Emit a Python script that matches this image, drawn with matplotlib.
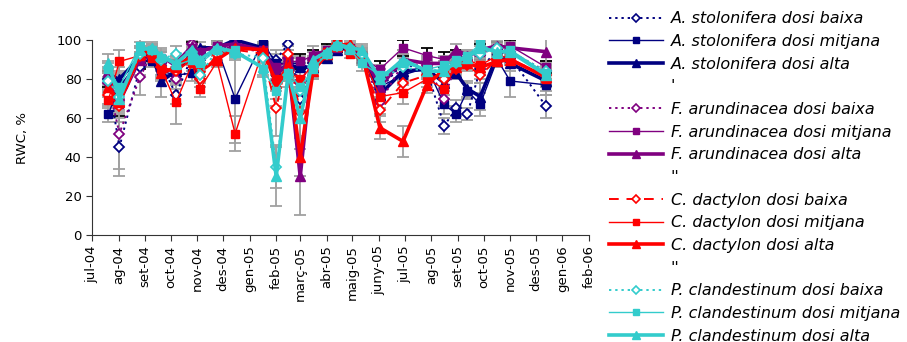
import numpy as np
import pandas as pd
import matplotlib
matplotlib.use("Agg")
import matplotlib.pyplot as plt
import matplotlib.dates as mdates
from matplotlib.lines import Line2D

# Sampling dates
dates = pd.to_datetime([
    "2004-07-20", "2004-08-02", "2004-08-26", "2004-09-09", "2004-09-20",
    "2004-10-07", "2004-10-26", "2004-11-04", "2004-11-24", "2004-12-15",
    "2005-01-16", "2005-02-01", "2005-02-15", "2005-03-01", "2005-03-16",
    "2005-04-01", "2005-04-13", "2005-04-28", "2005-05-12", "2005-06-02",
    "2005-06-29", "2005-07-27", "2005-08-16", "2005-08-30", "2005-09-12",
    "2005-09-27", "2005-10-17", "2005-11-01", "2005-12-13",
])

# RWC (%) per species and dose
a_baixa = [80, 45, 86, 92, 88, 72, 92, 90, 95, 97, 95, 90, 98, 70, 88, 92, 96, 96, 93, 75, 88, 84, 56, 65, 62, 85, 95, 91, 66]
a_mitjana = [62, 76, 90, 89, 84, 82, 83, 94, 96, 70, 99, 88, 88, 88, 85, 92, 96, 95, 90, 76, 82, 86, 67, 62, 74, 67, 90, 79, 77]
a_alta = [82, 80, 91, 92, 79, 84, 93, 96, 96, 100, 96, 84, 87, 86, 86, 91, 95, 96, 93, 72, 84, 85, 78, 83, 75, 71, 92, 88, 79]
f_baixa = [78, 52, 81, 93, 90, 80, 98, 92, 96, 96, 94, 85, 91, 78, 90, 94, 97, 96, 92, 68, 88, 87, 70, 88, 90, 93, 96, 94, 84]
f_mitjana = [80, 67, 89, 92, 91, 86, 96, 94, 97, 96, 95, 86, 89, 89, 92, 95, 96, 96, 91, 85, 96, 92, 90, 92, 91, 94, 96, 97, 86]
f_alta = [84, 72, 92, 94, 91, 88, 97, 94, 97, 98, 95, 82, 88, 30, 93, 94, 97, 97, 94, 76, 90, 88, 88, 95, 92, 95, 97, 96, 94]
c_baixa = [72, 66, 92, 94, 86, 84, 90, 80, 93, 95, 93, 65, 93, 63, 84, 93, 98, 95, 91, 64, 78, 82, 80, 85, 87, 82, 90, 90, 82]
c_mitjana = [69, 89, 92, 91, 85, 68, 88, 75, 89, 52, 94, 80, 84, 80, 87, 94, 100, 93, 92, 71, 73, 80, 75, 87, 90, 87, 92, 91, 80]
c_alta = [76, 68, 93, 95, 83, 86, 92, 84, 90, 96, 95, 78, 86, 40, 84, 93, 97, 98, 93, 55, 48, 77, 85, 86, 88, 86, 89, 90, 81]
p_baixa = [79, 71, 93, 95, 90, 93, 94, 82, 95, 93, 91, 35, 82, 74, 86, 93, 97, 96, 93, 80, 86, 84, 85, 88, 91, 93, 96, 94, 84]
p_mitjana = [85, 76, 97, 95, 91, 87, 90, 88, 95, 95, 85, 74, 83, 76, 85, 93, 97, 95, 88, 82, 88, 85, 87, 90, 92, 98, 93, 95, 83]
p_alta = [88, 70, 95, 96, 92, 88, 95, 90, 96, 94, 86, 30, 83, 60, 90, 94, 98, 96, 95, 80, 90, 84, 84, 89, 91, 96, 94, 94, 82]

# Standard errors
a_baixa_err = [5, 15, 4, 3, 4, 5, 3, 4, 3, 3, 3, 5, 3, 6, 4, 3, 2, 2, 3, 6, 5, 4, 4, 4, 3, 5, 3, 3, 6]
a_mitjana_err = [4, 8, 4, 3, 4, 4, 4, 3, 3, 23, 3, 5, 4, 4, 4, 3, 2, 2, 3, 5, 5, 4, 5, 4, 4, 6, 3, 8, 5]
a_alta_err = [4, 6, 3, 3, 8, 4, 3, 3, 2, 2, 3, 5, 4, 5, 4, 3, 2, 2, 3, 5, 4, 4, 4, 3, 4, 7, 3, 4, 5]
f_baixa_err = [5, 18, 9, 3, 4, 5, 3, 4, 3, 3, 3, 5, 4, 6, 4, 3, 2, 2, 3, 6, 5, 4, 4, 4, 3, 4, 3, 3, 5]
f_mitjana_err = [4, 6, 4, 3, 3, 4, 3, 3, 3, 3, 3, 4, 4, 4, 3, 3, 2, 2, 3, 4, 4, 4, 4, 3, 3, 4, 3, 3, 3]
f_alta_err = [4, 6, 4, 3, 3, 4, 3, 3, 3, 2, 3, 6, 4, 20, 4, 3, 2, 2, 3, 6, 5, 4, 4, 3, 3, 4, 3, 3, 7]
c_baixa_err = [5, 8, 4, 3, 4, 5, 3, 4, 3, 3, 3, 14, 4, 12, 4, 3, 2, 2, 3, 6, 5, 4, 4, 4, 3, 4, 3, 3, 5]
c_mitjana_err = [4, 6, 4, 3, 4, 11, 4, 4, 3, 9, 3, 6, 4, 8, 4, 3, 2, 2, 3, 6, 6, 4, 5, 4, 3, 4, 3, 3, 4]
c_alta_err = [5, 6, 4, 3, 4, 4, 3, 4, 3, 3, 3, 8, 4, 10, 4, 3, 2, 2, 3, 6, 8, 4, 4, 4, 3, 4, 3, 3, 4]
p_baixa_err = [5, 8, 4, 3, 4, 4, 3, 4, 3, 3, 3, 11, 6, 10, 4, 3, 2, 2, 3, 5, 5, 4, 4, 4, 3, 4, 3, 3, 4]
p_mitjana_err = [4, 6, 4, 3, 4, 4, 3, 4, 3, 3, 4, 8, 4, 8, 5, 3, 2, 2, 4, 5, 5, 4, 4, 4, 3, 4, 3, 3, 4]
p_alta_err = [5, 6, 4, 3, 4, 4, 3, 4, 3, 3, 4, 15, 4, 16, 4, 3, 2, 2, 3, 5, 5, 4, 4, 4, 3, 4, 3, 3, 4]

species = ["A. stolonifera", "F. arundinacea", "C. dactylon", "P. clandestinum"]
species_colors = ["#000080", "#800080", "#ff0000", "#33cccc"]
species_data = [
    (a_baixa, a_mitjana, a_alta),
    (f_baixa, f_mitjana, f_alta),
    (c_baixa, c_mitjana, c_alta),
    (p_baixa, p_mitjana, p_alta),
]
species_err = [
    (a_baixa_err, a_mitjana_err, a_alta_err),
    (f_baixa_err, f_mitjana_err, f_alta_err),
    (c_baixa_err, c_mitjana_err, c_alta_err),
    (p_baixa_err, p_mitjana_err, p_alta_err),
]
doses = ["dosi baixa", "dosi mitjana", "dosi alta"]
gap_labels = ["'", "''", "''"]

months_ca = ["gen", "feb", "març", "abr", "maig", "juny",
             "jul", "ag", "set", "oct", "nov", "des"]

fig = plt.figure(figsize=(9.07, 3.42), dpi=100)
ax = fig.add_axes([0.1014, 0.3129, 0.548, 0.5701])

handles = []
labels = []
for i, (name, color) in enumerate(zip(species, species_colors)):
    baixa, mitjana, alta = species_data[i]
    e_b, e_m, e_a = species_err[i]
    ecol_m = "black" if i == 1 else "#a0a0a0"
    for vals, err, ec in [(baixa, e_b, "#a0a0a0"), (mitjana, e_m, ecol_m), (alta, e_a, "#a0a0a0")]:
        ax.errorbar(dates, vals, yerr=err, fmt="none", ecolor=ec,
                    elinewidth=1.3, capsize=4, capthick=1.3, zorder=1)

    ls_baixa = (0, (5, 4)) if i == 2 else (0, (1.2, 2))
    ax.plot(dates, baixa, color=color, lw=1.4, linestyle=ls_baixa,
            marker="D", ms=4.8, mfc="white", mec=color, mew=1.3, zorder=3)
    ax.plot(dates, mitjana, color=color, lw=1.0, linestyle="-",
            marker="s", ms=5.8, mfc=color, mec=color, zorder=3)
    ax.plot(dates, alta, color=color, lw=2.6, linestyle="-",
            marker="^", ms=6.8, mfc=color, mec=color, zorder=3)

    # legend proxies with smaller markers
    handles += [
        Line2D([], [], color=color, lw=1.4, linestyle=ls_baixa, marker="D",
               ms=4, mfc="white", mec=color, mew=1.2),
        Line2D([], [], color=color, lw=1.0, marker="s", ms=5, mfc=color, mec=color),
        Line2D([], [], color=color, lw=2.6, marker="^", ms=6, mfc=color, mec=color),
    ]
    labels += [f"{name} {d}" for d in doses]
    if i < 3:
        handles.append(Line2D([], [], linestyle="none"))
        labels.append(gap_labels[i])

ax.set_ylim(0, 100)
ax.set_yticks(np.arange(0, 101, 20))
ax.set_xlim(pd.Timestamp("2004-07-01"), pd.Timestamp("2006-02-01"))
ax.xaxis.set_major_locator(mdates.MonthLocator())
ax.xaxis.set_major_formatter(
    plt.FuncFormatter(lambda x, pos: "%s-%s" % (
        months_ca[mdates.num2date(x).month - 1], mdates.num2date(x).strftime("%y"))))
ax.tick_params(axis="x", labelrotation=90, labelsize=9.5, direction="out", length=4, color="#333333")
ax.tick_params(axis="y", labelsize=9.5, direction="out", length=4, color="#333333")
ax.spines["top"].set_visible(False)
ax.spines["right"].set_visible(False)
for s in ["left", "bottom"]:
    ax.spines[s].set_color("#333333")
ax.set_ylabel("RWC, %", fontsize=9.5, labelpad=20)

leg = fig.legend(handles, labels, loc="upper left", bbox_to_anchor=(0.668, 0.976),
                 borderaxespad=0, borderpad=0.2,
                 frameon=False, prop={"style": "italic", "size": 11.5},
                 handlelength=3.4, handletextpad=0.45, labelspacing=0.48)

fig.savefig("out.png", dpi=100)
